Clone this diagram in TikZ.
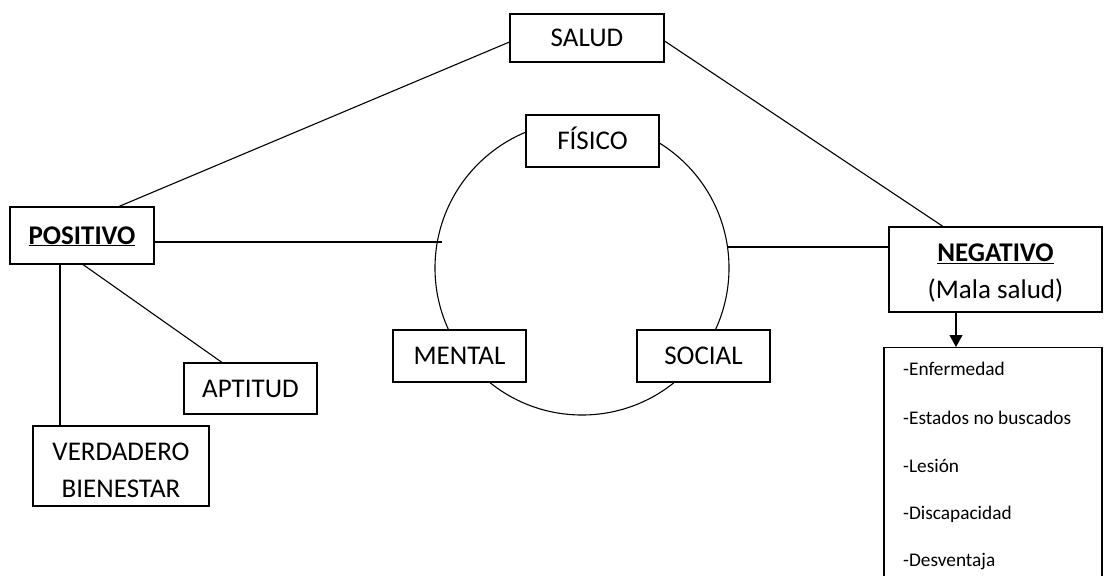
\documentclass[tikz,border=0pt]{standalone}
\usepackage{fontspec}
\setmainfont{Carlito}
\usetikzlibrary{arrows.meta,calc}

\begin{document}
\begin{tikzpicture}[x=1pt,y=-1pt,
  frame/.style={draw, line width=1.1pt, fill=white, inner sep=0pt,
    font=\fontsize{27}{37}\selectfont},
  box/.style={frame, text height=17pt, text depth=0pt},
  tallbox/.style={frame, align=center},
  link/.style={line width=1.1pt},
  item/.style={anchor=base west, inner sep=0pt, font=\fontsize{19.3}{22}\selectfont}
]
\useasboundingbox (0,0) rectangle (1104,576);
\clip (0,0) rectangle (1104,576);

% central ring of the three dimensions
\node[circle, draw, line width=1.1pt, minimum size=294pt, inner sep=0pt] (ring) at (582,268) {};
\coordinate (lj) at (442,242);
\coordinate (rj) at (728,247);

% boxes
\node[box, minimum width=154pt, minimum height=48pt] (salud) at (587,38) {SALUD};
\node[box, minimum width=133pt, minimum height=52pt] (fisico) at (592.5,141) {FÍSICO};
\node[box, minimum width=133pt, minimum height=52pt] (mental) at (459.5,356) {MENTAL};
\node[box, minimum width=133pt, minimum height=52pt] (social) at (703.5,356) {SOCIAL};
\node[box, minimum width=144pt, minimum height=57pt] (pos) at (82,235.5) {\textbf{\underline{POSITIVO}}};
\node[box, minimum width=133pt, minimum height=51pt] (apt) at (250.5,388.5) {APTITUD};
\node[tallbox, minimum width=176pt, minimum height=80pt] (verd) at (121,466) {\rule{0pt}{25.5pt}VERDADERO\\BIENESTAR};
\node[tallbox, minimum width=213pt, minimum height=85pt] (neg) at (995.5,269.5) {\rule{0pt}{25pt}\textbf{\underline{NEGATIVO}}\\(Mala salud)};

% list of negative states
\node[draw, line width=1.1pt, inner sep=0pt, anchor=north, minimum width=218pt, minimum height=260pt] (lista) at (993,347) {};
\node[item] (i1) at (903,375) {-Enfermedad};
\node[item] (i2) at (903,424) {-Estados no buscados};
\node[item] (i3) at (903,472) {-Lesión};
\node[item] (i4) at (903,519) {-Discapacidad};
\node[item] (i5) at (903,566) {-Desventaja};

% connectors
\draw[link] ([xshift=37pt]pos.north) -- ([yshift=-4pt]salud.west);
\draw[link] ([yshift=-3pt]salud.east) -- ([xshift=-52.5pt]neg.north);
\draw[link] ([yshift=-6.5pt]pos.east) -- (lj);
\draw[link] (rj) -- (rj -| neg.west);
\draw[link] ([xshift=1pt]pos.south) -- ([xshift=-28.5pt]apt.north);
\draw[link] ([xshift=-22pt]pos.south) -- ([xshift=-61pt]verd.north);
\draw[link, -{Triangle[length=12pt,width=13pt]}] ([xshift=-39.5pt]neg.south) -- ([xshift=-37pt]lista.north);
\end{tikzpicture}
\end{document}
